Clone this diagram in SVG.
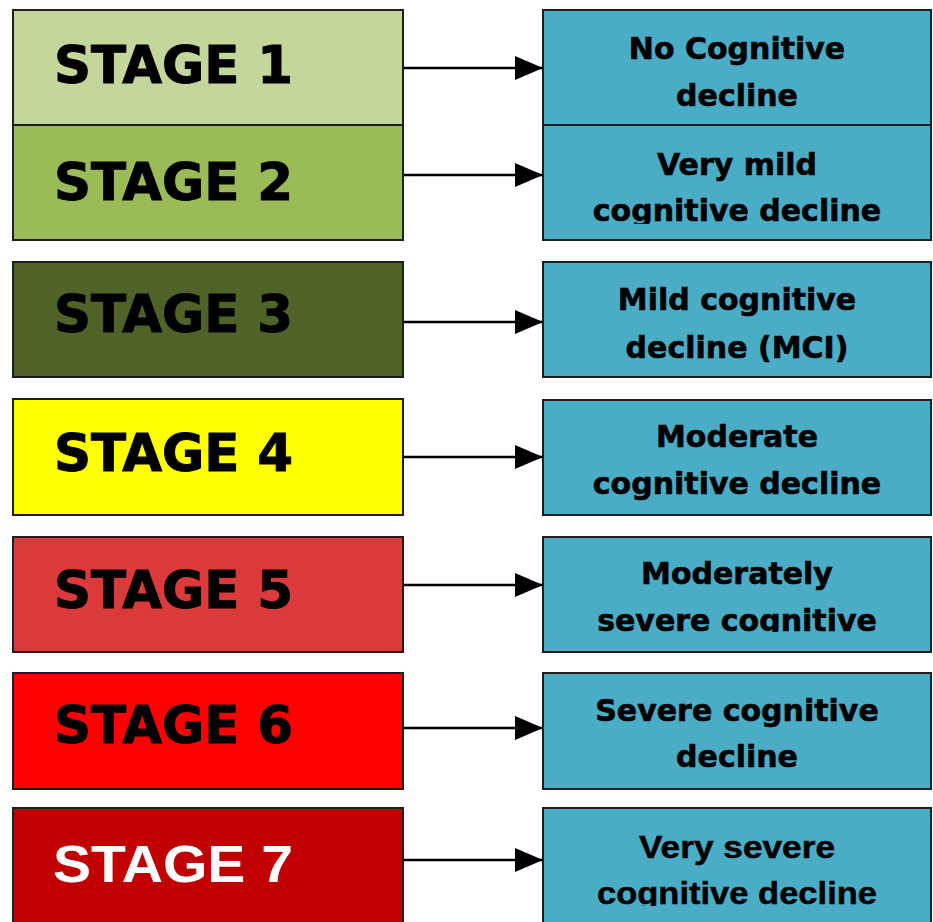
<svg xmlns="http://www.w3.org/2000/svg" width="933" height="922" viewBox="0 0 933 922">
<style>
.box{stroke:#1e1e1e;stroke-width:2}
.rb{fill:#4bacc6;stroke:#1e1e1e;stroke-width:2}
.st{font-family:"DejaVu Sans",sans-serif;font-weight:bold;font-size:51px;fill:#000;stroke:#000;stroke-width:1}
.rt{font-family:"DejaVu Sans",sans-serif;font-weight:bold;font-size:30px;fill:#000;text-anchor:middle;stroke:#000;stroke-width:0.6}
.rt7{font-family:"Liberation Sans",Arial,sans-serif;font-weight:bold;font-size:32px;fill:#000;text-anchor:middle;stroke:#000;stroke-width:0.5}
.conn line{stroke:#000;stroke-width:2.5}
</style>
<defs>
<marker id="ah" viewBox="0 0 28 24" refX="28" refY="12" markerWidth="28" markerHeight="24" markerUnits="userSpaceOnUse" orient="auto">
<path d="M0,0 L28,12 L0,24 Z" fill="#000"/>
</marker>
<clipPath id="c2"><rect x="543" y="125" width="390" height="99"/></clipPath>
<clipPath id="c5"><rect x="543" y="536" width="390" height="96"/></clipPath>
<clipPath id="c7"><rect x="543" y="808" width="390" height="98"/></clipPath>
</defs>
<rect width="933" height="922" fill="#fff"/>

<g id="stage1"><rect class="box" x="13" y="10" width="390" height="115" fill="#c3d69b"/><text class="st" x="54" y="83" textLength="239" lengthAdjust="spacingAndGlyphs">STAGE 1</text></g>
<g id="stage2"><rect class="box" x="13" y="125" width="390" height="115" fill="#9bbb59"/><text class="st" x="54" y="200" textLength="239" lengthAdjust="spacingAndGlyphs">STAGE 2</text></g>
<g id="stage3"><rect class="box" x="13" y="262" width="390" height="115" fill="#4f6228"/><text class="st" x="54" y="332" textLength="239" lengthAdjust="spacingAndGlyphs">STAGE 3</text></g>
<g id="stage4"><rect class="box" x="13" y="399" width="390" height="116" fill="#ffff00"/><text class="st" x="54" y="471" textLength="239" lengthAdjust="spacingAndGlyphs">STAGE 4</text></g>
<g id="stage5"><rect class="box" x="13" y="537" width="390" height="115" fill="#da3a3a"/><text class="st" x="54" y="608" textLength="239" lengthAdjust="spacingAndGlyphs">STAGE 5</text></g>
<g id="stage6"><rect class="box" x="13" y="673" width="390" height="116" fill="#ff0000"/><text class="st" x="54" y="743" textLength="239" lengthAdjust="spacingAndGlyphs">STAGE 6</text></g>
<g id="stage7"><rect class="box" x="13" y="808" width="390" height="130" fill="#c00000"/><text x="53" y="882" font-family="Liberation Sans, Arial, sans-serif" font-weight="bold" font-size="52" fill="#fff" textLength="240" lengthAdjust="spacingAndGlyphs">STAGE 7</text></g>

<g id="desc1"><rect class="rb" x="543" y="10" width="388" height="115"/><text class="rt" x="737" y="59">No Cognitive</text><text class="rt" x="737" y="106">decline</text></g>
<g id="desc2"><rect class="rb" x="543" y="125" width="388" height="115"/><g clip-path="url(#c2)"><text class="rt" x="737" y="175">Very mild</text><text class="rt" x="737" y="221">cognitive decline</text></g></g>
<g id="desc3"><rect class="rb" x="543" y="262" width="388" height="115"/><text class="rt" x="737" y="310">Mild cognitive</text><text class="rt" x="737" y="358">decline (MCI)</text></g>
<g id="desc4"><rect class="rb" x="543" y="400" width="388" height="115"/><text class="rt" x="737" y="447">Moderate</text><text class="rt" x="737" y="494">cognitive decline</text></g>
<g id="desc5"><rect class="rb" x="543" y="537" width="388" height="115"/><g clip-path="url(#c5)"><text class="rt" x="737" y="584">Moderately</text><text class="rt" x="737" y="631">severe cognitive</text></g></g>
<g id="desc6"><rect class="rb" x="543" y="673" width="388" height="116"/><text class="rt" x="737" y="721">Severe cognitive</text><text class="rt" x="737" y="767">decline</text></g>
<g id="desc7"><rect class="rb" x="543" y="808" width="388" height="130"/><g clip-path="url(#c7)"><text class="rt7" x="737" y="858" textLength="196" lengthAdjust="spacingAndGlyphs">Very severe</text><text class="rt7" x="737" y="904" textLength="280" lengthAdjust="spacingAndGlyphs">cognitive decline</text></g></g>

<g id="connectors" class="conn">
<line x1="404" y1="68" x2="543" y2="68" marker-end="url(#ah)"/>
<line x1="404" y1="175" x2="543" y2="175" marker-end="url(#ah)"/>
<line x1="404" y1="322" x2="543" y2="322" marker-end="url(#ah)"/>
<line x1="404" y1="457" x2="543" y2="457" marker-end="url(#ah)"/>
<line x1="404" y1="585" x2="543" y2="585" marker-end="url(#ah)"/>
<line x1="404" y1="728" x2="543" y2="728" marker-end="url(#ah)"/>
<line x1="404" y1="860" x2="543" y2="860" marker-end="url(#ah)"/>
</g>
</svg>
